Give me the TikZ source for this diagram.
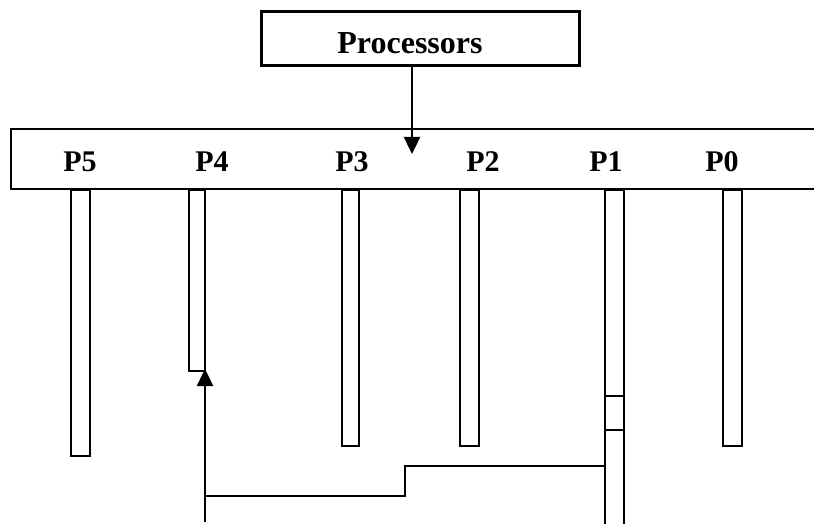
\documentclass[tikz,border=0pt]{standalone}
\usepackage{fontspec}
\setmainfont{Liberation Serif}
\usetikzlibrary{arrows.meta}
\begin{document}
\begin{tikzpicture}[x=1pt,y=-1pt,
  thinline/.style={line width=2pt, draw=black},
  bar/.style={thinline, rectangle, inner sep=0pt, anchor=north},
  plabel/.style={font=\fontsize{30}{30}\selectfont\bfseries, inner sep=0pt},
  arr/.style={line width=2.4pt, -{Triangle[length=17pt,width=16pt]}}]
\useasboundingbox (0,0) rectangle (814,524);
\clip (0,0) rectangle (814,524);
% Processors box
\node[draw=black, line width=3pt, minimum width=318pt, minimum height=54pt, inner sep=0pt] (proc) at (420,39) {};
\node[font=\fontsize{32}{32}\selectfont\bfseries, inner sep=0pt] (proctext) at (410,43) {Processors};
% main strip
\coordinate (stripTL) at (11,129);
\coordinate (stripBL) at (11,189);
\draw[thinline] (830,129) -- (stripTL) -- (stripBL) -- (830,189);
% arrow into the strip
\coordinate (tipA) at (412,154);
\draw[arr] (proc.south -| tipA) -- (tipA);
% labels
\node[plabel] (l5) at (80,162) {P5};
\node[plabel] (l4) at (212,162) {P4};
\node[plabel] (l3) at (352,162) {P3};
\node[plabel] (l2) at (483,162) {P2};
\node[plabel] (l1) at (606,162) {P1};
\node[plabel] (l0) at (722,162) {P0};
% bars
\node[bar, minimum width=19pt, minimum height=266pt] (b5) at (80.5,189) {};
\node[bar, minimum width=16pt, minimum height=181pt] (b4) at (197,189) {};
\node[bar, minimum width=17pt, minimum height=256pt] (b3) at (350.5,189) {};
\node[bar, minimum width=19pt, minimum height=256pt] (b2) at (469.5,189) {};
\node[bar, minimum width=19pt, minimum height=350pt] (b1) at (614.5,189) {};
\node[bar, minimum width=19pt, minimum height=256pt] (b0) at (732.5,189) {};
% divisions in P1 bar
\draw[thinline] (b1.west |- 0,396) -- (b1.east |- 0,396);
\draw[thinline] (b1.west |- 0,430) -- (b1.east |- 0,430);
% connector from P1 to P4
\coordinate (c1) at (405,466);
\coordinate (c2) at (405,496);
\coordinate (c3) at (205,496);
\coordinate (c4) at (205,522);
\coordinate (tipB) at (205,369);
\draw[thinline] (b1.west |- c1) -- (c1) -- (c2) -- (c3);
\draw[arr] (c4) -- (c3) -- (tipB);
\end{tikzpicture}
\end{document}
